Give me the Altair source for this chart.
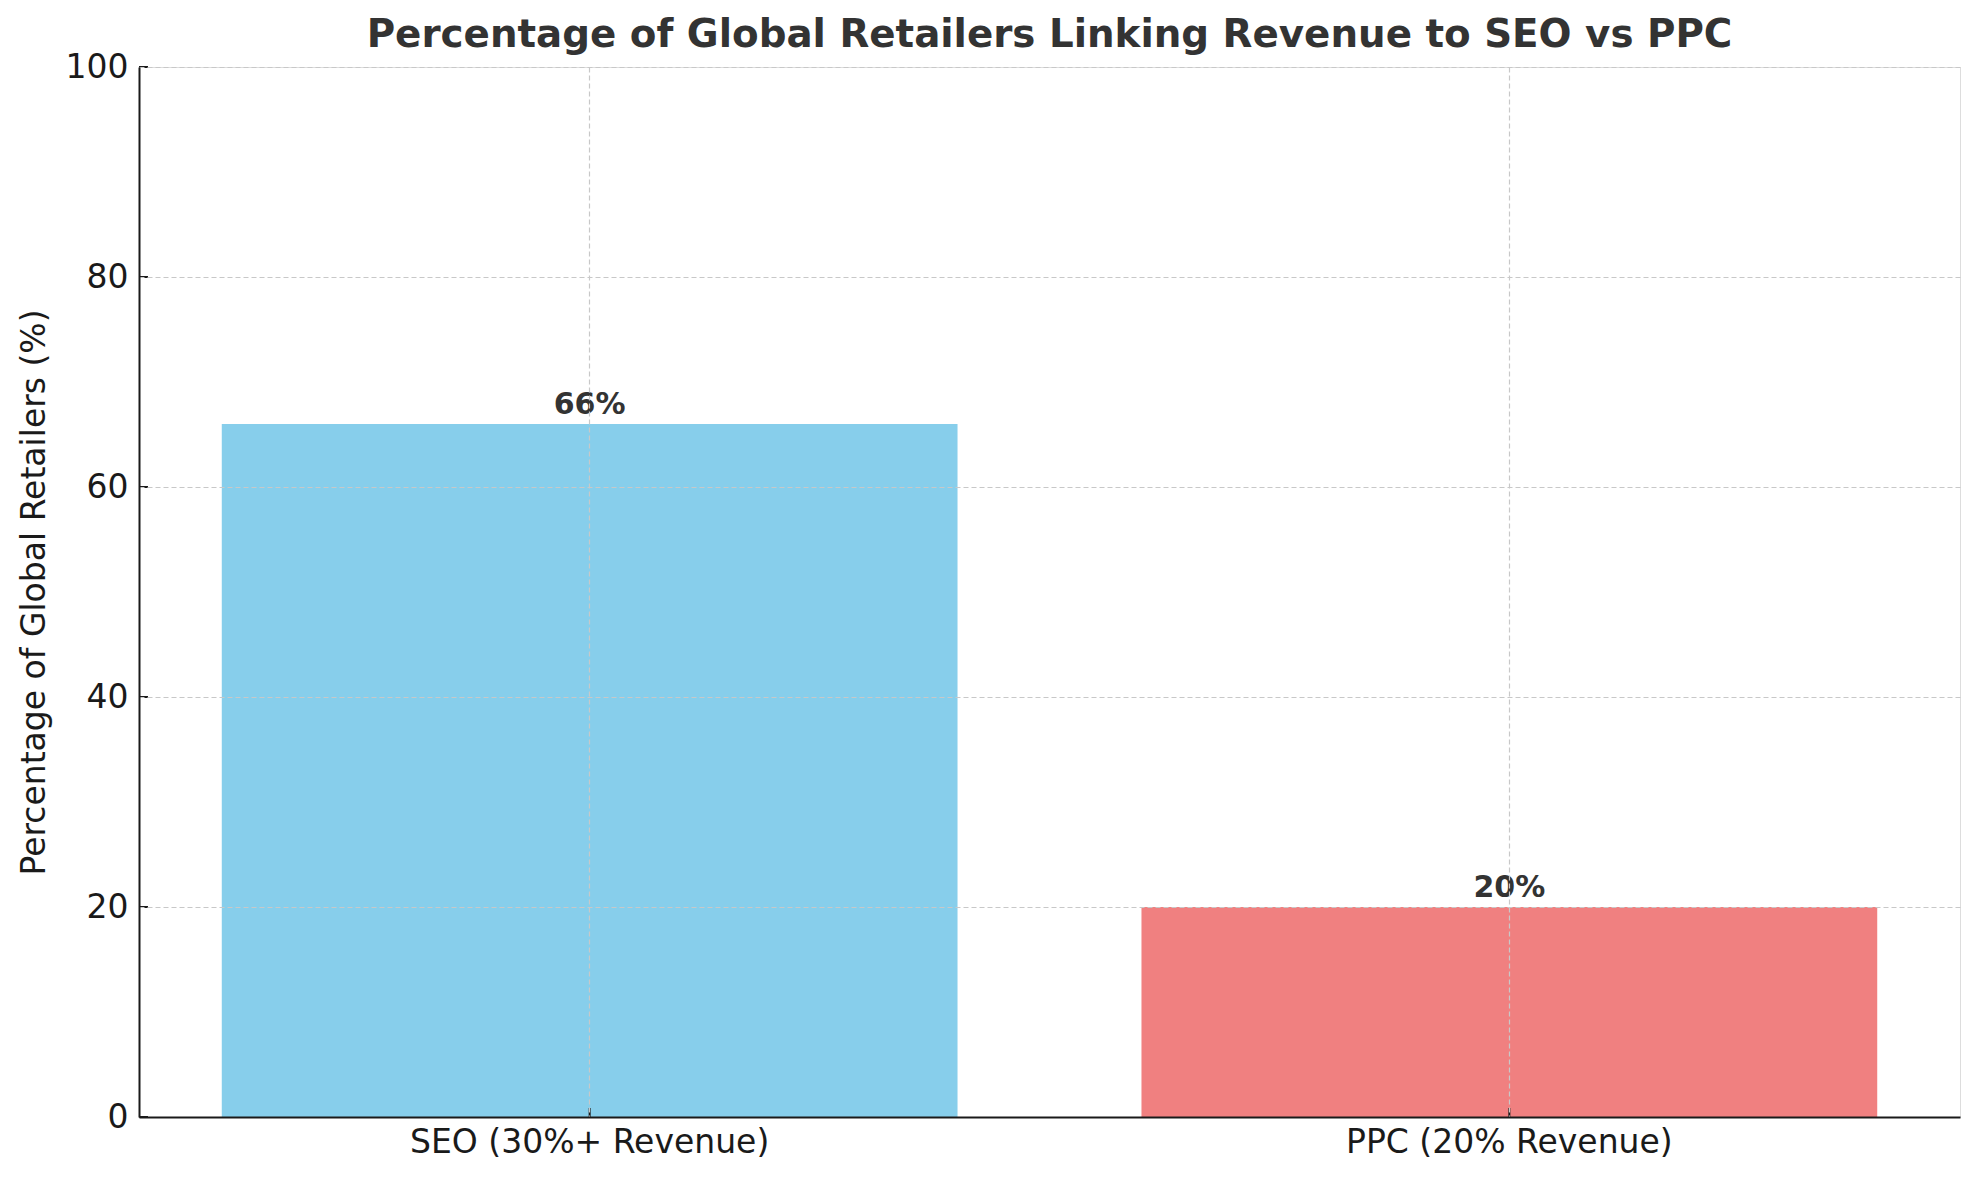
import altair as alt
import pandas as pd

categories = ["SEO (30%+ Revenue)", "PPC (20% Revenue)"]
values = [66, 20]
labels = ["66%", "20%"]
colors = ["#87CEEB", "#F08080"]
y_ticks = [0, 20, 40, 60, 80, 100]

df = pd.DataFrame({"cat": categories, "val": values, "lab": labels, "color": colors})
ticks_df = pd.DataFrame({"t": y_ticks})

W, H = 1821, 1050
FONT = "DejaVu Sans"
FS = 33

xscale = alt.Scale(domain=categories, paddingInner=0.2, paddingOuter=0.09)
yscale = alt.Scale(domain=[0, 100], nice=False)

grid_x = alt.Axis(title=None, labelAngle=0, labelFont=FONT, labelFontSize=FS,
                  labelColor="#1a1a1a", labelPadding=9, labelLimit=0, ticks=False,
                  domainColor="#1a1a1a", domainWidth=2,
                  grid=True, gridColor="#c8c8c8", gridDash=[5, 3], gridWidth=1.2,
                  zindex=1)
grid_y = alt.Axis(title="Percentage of Global Retailers (%)", values=y_ticks,
                  labelFont=FONT, labelFontSize=FS, labelColor="#1a1a1a",
                  labelPadding=11, ticks=False, titleFont=FONT, titleFontSize=FS,
                  titleFontWeight="normal", titleColor="#1a1a1a", titlePadding=14,
                  domainColor="#1a1a1a", domainWidth=2,
                  grid=True, gridColor="#c8c8c8", gridDash=[5, 3], gridWidth=1.2,
                  zindex=1)

base = alt.Chart(df)

bars = base.mark_bar().encode(
    x=alt.X("cat:N", scale=xscale, axis=grid_x, sort=categories),
    y=alt.Y("val:Q", scale=yscale, axis=grid_y),
    color=alt.Color("color:N", scale=None),
)

text = base.mark_text(font=FONT, fontSize=30, fontWeight="bold", color="#333333",
                      baseline="alphabetic", dy=-10).encode(
    x=alt.X("cat:N", scale=xscale, sort=categories),
    y=alt.Y("val:Q", scale=yscale),
    text="lab:N",
)

yticks = alt.Chart(ticks_df).mark_rule(color="#1a1a1a", strokeWidth=2).encode(
    y=alt.Y("t:Q", scale=yscale),
    x=alt.value(0),
    x2=alt.value(9),
)

xticks = base.mark_rule(color="#1a1a1a", strokeWidth=2).encode(
    x=alt.X("cat:N", scale=xscale, sort=categories),
    y=alt.value(H - 9),
    y2=alt.value(H),
)

chart = alt.layer(bars, text, yticks, xticks).properties(
    width=W, height=H,
    title=alt.TitleParams("Percentage of Global Retailers Linking Revenue to SEO vs PPC",
                          font=FONT, fontSize=38.8, fontWeight="bold", color="#333333",
                          anchor="middle", baseline="alphabetic", offset=0, dy=35),
    autosize=alt.AutoSizeParams(type="none"),
    padding={"left": 131, "top": 59, "right": 10, "bottom": 45},
).configure_view(stroke=None).configure(background="white")

chart.save("out.html", embed_options={"renderer": "svg", "actions": False})
